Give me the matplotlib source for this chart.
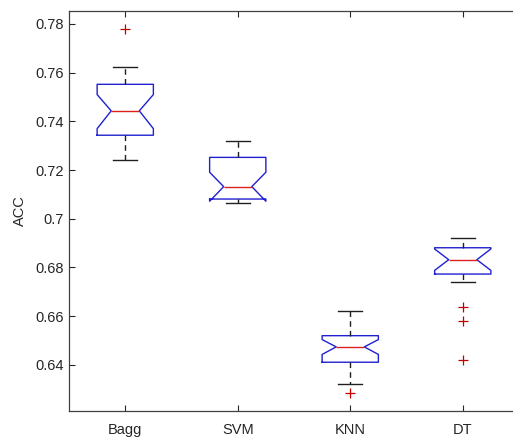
import matplotlib.pyplot as plt

plt.rcParams['font.family'] = ['Liberation Sans', 'DejaVu Sans']

# box statistics
labels = ["Bagg", "SVM", "KNN", "DT"]
med = [0.7443, 0.7132, 0.6474, 0.6832]
q1 = [0.7343, 0.7081, 0.6411, 0.6773]
q3 = [0.7552, 0.7252, 0.6520, 0.6881]
whislo = [0.7241, 0.7064, 0.6322, 0.6742]
whishi = [0.7622, 0.7321, 0.6621, 0.6920]
cilo = [0.7370, 0.7072, 0.6443, 0.6788]
cihi = [0.7510, 0.7191, 0.6504, 0.6876]
fliers = [[0.7780], [], [0.6284], [0.6639, 0.6582, 0.6420]]

stats = []
for i in range(len(labels)):
    stats.append(dict(label=labels[i], med=med[i], q1=q1[i], q3=q3[i],
                      whislo=whislo[i], whishi=whishi[i],
                      cilo=cilo[i], cihi=cihi[i], fliers=fliers[i]))

fig = plt.figure(figsize=(5.13, 4.37), dpi=100)
# the right edge of the box is cut off by the image border in the reference
ax = fig.add_axes([69 / 513, 26.3 / 437, 450 / 513, 399.7 / 437])

ax.bxp(stats, positions=[1, 2, 3, 4], widths=0.5, shownotches=True,
       capwidths=0.21,
       boxprops=dict(color='#2020d0', linewidth=1.0),
       medianprops=dict(color='#e02020', linewidth=1.0),
       whiskerprops=dict(color='#202020', linewidth=1.0, linestyle=(0, (4, 3))),
       capprops=dict(color='#202020', linewidth=1.0),
       flierprops=dict(marker='+', markeredgecolor='#c00000', markersize=7,
                       markeredgewidth=0.9, linestyle='none'))

ax.set_xlim(0.5, 4.5)
ax.set_ylim(0.6212, 0.7853)
ax.set_yticks([0.64, 0.66, 0.68, 0.70, 0.72, 0.74, 0.76, 0.78])
ax.set_yticklabels(["0.64", "0.66", "0.68", "0.7", "0.72", "0.74", "0.76", "0.78"])
ax.set_xticks([1, 2, 3, 4])
ax.set_xticklabels(labels)
ax.tick_params(direction='in', top=True, right=False, length=4,
               labelsize=10.5, colors='#262626', width=0.8)
ax.tick_params(axis='x', pad=9)
for s in ax.spines.values():
    s.set_color('#404040')
    s.set_linewidth(0.9)
ax.spines['right'].set_visible(False)
ax.set_ylabel("ACC", fontsize=10.5, color='#262626', labelpad=6)

fig.savefig("out.png", dpi=100)
